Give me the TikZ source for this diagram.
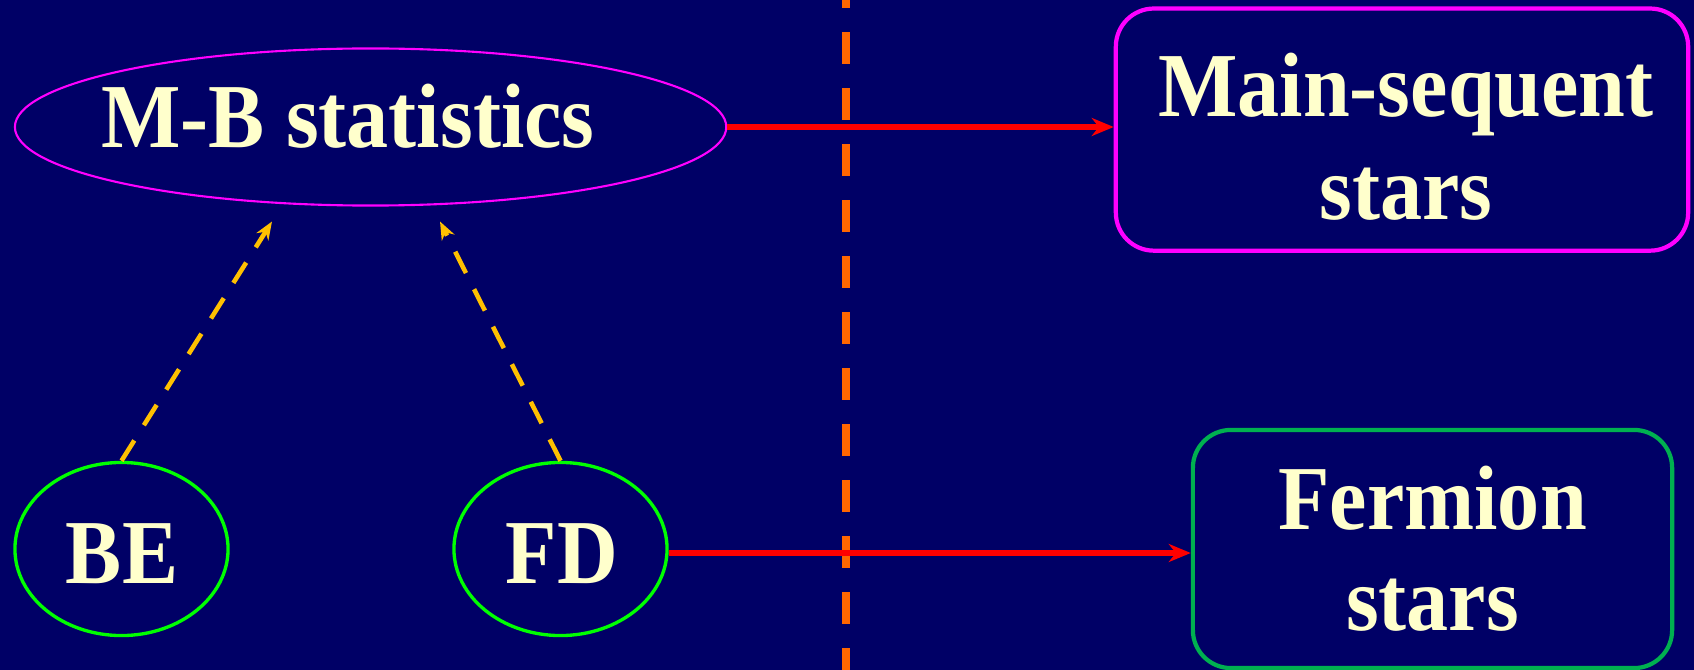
\documentclass[tikz,border=0pt]{standalone}
\usepackage{fontspec}
\setmainfont{Liberation Serif}[FakeStretch=0.92]
\usetikzlibrary{shapes.geometric,arrows.meta}
\definecolor{bgnavy}{RGB}{0,0,102}
\definecolor{textyel}{RGB}{255,255,204}
\definecolor{mbmag}{RGB}{255,0,255}
\definecolor{ellgreen}{RGB}{0,255,0}
\definecolor{boxgreen}{RGB}{0,176,80}
\definecolor{arrred}{RGB}{255,0,0}
\definecolor{divorange}{RGB}{255,102,0}
\definecolor{dashyel}{RGB}{255,192,0}
\begin{document}
\begin{tikzpicture}[x=0.01cm,y=-0.01cm,
  txt/.style={text=textyel,font=\fontsize{26}{31}\selectfont\bfseries,inner sep=0pt,anchor=base},
  ell/.style={ellipse,inner sep=0pt},
  rbox/.style={rectangle,rounded corners=0.38cm,line width=1.2pt,inner sep=0pt},
  redarrow/.style={draw=arrred,line width=1.9pt,-{Stealth[length=0.22cm,width=0.18cm]}},
  yarrow/.style={draw=dashyel,line width=1.3pt,dash pattern=on 0.24cm off 0.18cm,-{Stealth[length=0.18cm,width=0.14cm]}},
  divider/.style={draw=divorange,line width=2pt,dash pattern=on 0.32cm off 0.24cm,dash phase=0.24cm}]
\fill[bgnavy] (0,0) rectangle (1694,670);
\useasboundingbox (0,0) rectangle (1694,670);
% divider
\coordinate (dtop) at (846,0);
\coordinate (dbot) at (846,670);
\draw[divider] (dtop) -- (dbot);
% nodes
\node[ell,draw=mbmag,line width=0.6pt,minimum width=7.11cm,minimum height=1.57cm] (mb) at (370.6,127) {};
\node[txt] (mbtext) at (348,148) {M-B statistics};
\node[rbox,draw=mbmag,minimum width=5.72cm,minimum height=2.42cm] (main) at (1402,129.6) {};
\node[txt] (main1) at (1406,116.7) {Main-sequent};
\node[txt] (main2) at (1406,219) {stars};
\node[ell,draw=ellgreen,line width=0.95pt,minimum width=2.13cm,minimum height=1.73cm] (be) at (121.5,549) {};
\node[txt] (betext) at (122,583) {BE};
\node[ell,draw=ellgreen,line width=0.95pt,minimum width=2.13cm,minimum height=1.73cm] (fd) at (560.5,549) {};
\node[txt] (fdtext) at (562,583) {FD};
\node[rbox,draw=boxgreen,minimum width=4.79cm,minimum height=2.38cm] (fermion) at (1432.5,549) {};
\node[txt] (ferm1) at (1432.6,529) {Fermion};
\node[txt] (ferm2) at (1432.6,630) {stars};
% connectors
\draw[redarrow] (mb.east) -- (mb.east -| main.west);
\draw[redarrow] ([yshift=-0.04cm]fd.east) -- ([yshift=-0.04cm]fd.east -| fermion.west);
\coordinate (t1) at (272,221.5);
\coordinate (t2) at (440,221.5);
\draw[yarrow] (be.north) -- (t1);
\draw[yarrow] (fd.north) -- (t2);
\end{tikzpicture}
\end{document}
